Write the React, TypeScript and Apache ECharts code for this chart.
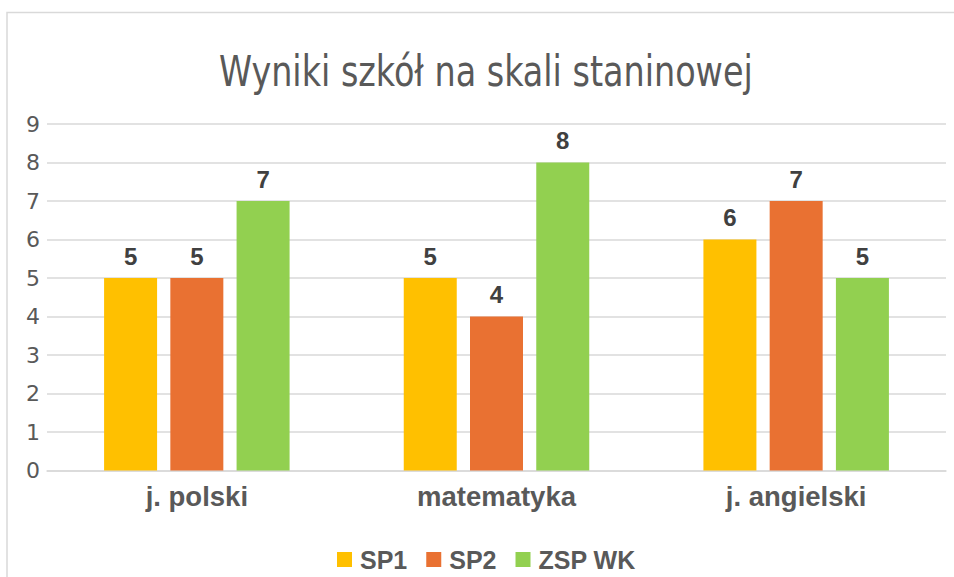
import React, { useEffect, useRef } from "react";
import * as echarts from "echarts";

const categories = ["j. polski", "matematyka", "j. angielski"];
const seriesNames = ["SP1", "SP2", "ZSP WK"];
const sp1 = [5, 5, 6];
const sp2 = [5, 4, 7];
const zspwk = [7, 8, 5];
const colors = ["#FFC000", "#E97132", "#92D050"];
const yTicks = { min: 0, max: 9, interval: 1 };
const title = "Wyniki szkół na skali staninowej";

export default function App() {
  const ref = useRef<HTMLDivElement>(null);
  useEffect(() => {
    if (!ref.current) return;
    const chart = echarts.init(ref.current, null, { renderer: "svg" });
    const values = [sp1, sp2, zspwk];
    const boldFont = "'Liberation Sans', Arial, sans-serif";
    chart.setOption({
      animation: false,
      backgroundColor: "#ffffff",
      graphic: [
        {
          type: "rect",
          shape: { x: 7, y: 12.5, width: 1000, height: 700 },
          style: { fill: "none", stroke: "#D9D9D9", lineWidth: 1.5 },
          silent: true,
          z: -1,
        },
        {
          type: "text",
          x: 219,
          y: 71,
          scaleX: 0.885,
          scaleY: 1,
          silent: true,
          style: {
            x: 0,
            y: 0,
            text: title,
            align: "left",
            verticalAlign: "middle",
            fontFamily: "'DejaVu Sans Condensed', 'DejaVu Sans', sans-serif",
            fontSize: 42,
            fontWeight: "normal",
            fill: "#595959",
          },
        },
      ],
      legend: {
        top: 547,
        left: 337,
        padding: 0,
        itemWidth: 15,
        itemHeight: 15,
        itemGap: 19,
        icon: "rect",
        data: seriesNames,
        textStyle: {
          fontFamily: boldFont,
          fontWeight: "bold",
          fontSize: 25,
          lineHeight: 25,
          color: "#595959",
          padding: [0, 0, 0, 3],
        },
      },
      grid: { left: 47, right: 8, top: 124, bottom: 106.5 },
      xAxis: {
        type: "category",
        data: categories,
        axisLine: { lineStyle: { color: "#D9D9D9", width: 1.5 } },
        axisTick: { show: false },
        axisLabel: {
          margin: 12,
          fontFamily: boldFont,
          fontWeight: "bold",
          fontSize: 27.5,
          color: "#595959",
        },
      },
      yAxis: {
        type: "value",
        min: yTicks.min,
        max: yTicks.max,
        interval: yTicks.interval,
        axisLine: { show: false },
        axisTick: { show: false },
        splitLine: { lineStyle: { color: "#D9D9D9", width: 1.5 } },
        axisLabel: {
          margin: 7,
          fontFamily: "'DejaVu Sans', sans-serif",
          fontSize: 22,
          color: "#595959",
        },
      },
      series: seriesNames.map((name, i) => ({
        name,
        type: "bar",
        data: values[i],
        barWidth: 53,
        barGap: "25%",
        itemStyle: { color: colors[i] },
        label: {
          show: true,
          position: "top",
          distance: 10,
          fontFamily: boldFont,
          fontWeight: "bold",
          fontSize: 24,
          color: "#404040",
        },
      })),
    });
    return () => chart.dispose();
  }, []);
  return (
    <div
      ref={ref}
      style={{ position: "fixed", left: 0, top: 0, width: 954, height: 577 }}
    />
  );
}
